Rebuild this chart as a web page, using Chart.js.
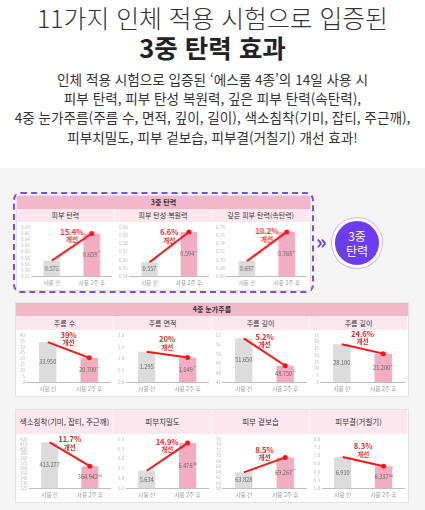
<!DOCTYPE html>
<html lang="ko">
<head>
    <meta charset="UTF-8">
    <title>3중 탄력 효과</title>
    <style>
        body {
            margin: 0;
            width: 425px;
            height: 510px;
            position: relative;
            overflow: hidden;
            background: #fff;
            font-family: "Noto Sans CJK KR", "Noto Sans", sans-serif;
            color: #333;
        }
        .abs { position: absolute; }
        .title1 {
            left: 0; width: 425px; top: 2px;
            text-align: center; font-size: 24.8px; font-weight: 300; color: #333;
            line-height: 30px;
        }
        .title2 {
            left: 0; width: 425px; top: 32px;
            text-align: center; font-size: 25.5px; font-weight: 700; color: #222;
            line-height: 30px;
        }
        .desc {
            left: 0; width: 425px; top: 70px;
            text-align: center; font-size: 13.6px; line-height: 19.2px; color: #333;
        }
        .bg {
            left: 0; top: 168px; width: 425px; height: 342px; background: #f5f5f5;
        }
        .dashed {
            left: 13px; top: 192px; width: 297px; height: 97px;
            border: 2px dashed #7a4cf5; border-radius: 8px;
        }
        .panel { background: #fff; border: 1px solid #e3e3e3; }
        .mainHead {
            background: #f3b7ca; text-align: center; font-size: 7px; font-weight: 700;
            color: #333;
        }
        .subHead {
            background: #fde7ef; text-align: center; font-size: 7px; color: #333;
            border-right: 1px solid #fff; box-sizing: border-box;
        }
        .circle {
            left: 332px; top: 218px; width: 44px; height: 44px; border-radius: 50%;
            background: #6b3cf2; border: 3px solid #fff; box-shadow: 0 0 0 1px #c8b6fb;
            color: #fff; font-size: 12px; line-height: 15px; text-align: center;
            display: flex; align-items: center; justify-content: center;
        }
        .arrow {
            left: 316px; top: 229px; font-size: 20px; font-weight: 700; color: #6b3cf2;
            line-height: 24px;
        }
    </style>
    <script src="https://cdn.jsdelivr.net/npm/chart.js"></script>
</head>
<body>
    <div class="abs title1">11가지 인체 적용 시험으로 입증된</div>
    <div class="abs title2">3중 탄력 효과</div>
    <div class="abs desc">
        인체 적용 시험으로 입증된 ‘에스룸 4종’의 14일 사용 시<br>
        피부 탄력, 피부 탄성 복원력, 깊은 피부 탄력(속탄력),<br>
        4중 눈가주름(주름 수, 면적, 깊이, 길이), 색소침착(기미, 잡티, 주근깨),<br>
        피부치밀도, 피부 겉보습, 피부결(거칠기) 개선 효과!
    </div>
    <div class="abs bg"></div>
    <div class="abs dashed"></div>
    <div class="abs arrow">»</div>
    <div class="abs circle">3중<br>탄력</div>
    <div id="stage"></div>

    <script>
        const chartTitles = ['피부 탄력', '피부 탄성 복원력', '깊은 피부 탄력(속탄력)',
            '주름 수', '주름 면적', '주름 깊이', '주름 길이',
            '색소침착(기미, 잡티, 주근깨)', '피부치밀도', '피부 겉보습', '피부결(거칠기)'];
        const xLabels = ['사용 전', '사용 2주 후'];
        const beforeValues = [0.571, 0.557, 0.697, 33.950, 1.295, 51.650, 28.100, 413.277, 5.634, 63.828, 6.910];
        const afterValues = [0.659, 0.594, 0.768, 20.700, 1.049, 48.750, 21.200, 364.942, 6.476, 69.267, 6.337];
        const beforeLabels = ['0.571', '0.557', '0.697', '33.950', '1.295', '51.650', '28.100', '413.277', '5.634', '63.828', '6.910'];
        const afterLabels = ['0.659', '0.594', '0.768', '20.700', '1.049', '48.750', '21.200', '364.942', '6.476', '69.267', '6.337'];
        const afterMarks = ['**', '**', '**', '**', '**', '**', '**', '##', '##', '**', '##'];
        const improvements = ['15.4%', '6.6%', '10.2%', '39%', '20%', '5.2%', '24.6%', '11.7%', '14.9%', '8.5%', '8.3%'];
        const axisMin = [0.52, 0.54, 0.66, 0, 0, 47, 0, 320, 5.1, 58, 5.0];
        const axisMax = [0.68, 0.60, 0.78, 40, 2.0, 52, 35, 420, 6.6, 76, 8.0];
        const axisStep = [0.02, 0.01, 0.02, 5, 0.5, 1, 5, 10, 0.3, 2, 0.5];
        const groupTitles = ['3중 탄력', '4중 눈가주름', ''];

        // layout of the three panels (px)
        const groups = [
            { left: 17, top: 196, width: 293, head: 13, sub: 13, chart: 68, charts: [0, 1, 2] },
            { left: 16, top: 303, width: 392, head: 13, sub: 14, chart: 66, charts: [3, 4, 5, 6] },
            { left: 16, top: 410, width: 392, head: 0, sub: 24, chart: 68, charts: [7, 8, 9, 10] }
        ];

        const FONT = '"Noto Sans CJK KR", "Noto Sans", sans-serif';

        const barText = {
            id: 'barText',
            afterDatasetsDraw(chart) {
                const i = chart.options.plugins.barText.index;
                const ctx = chart.ctx;
                const bottom = chart.chartArea.bottom;
                const bars = chart.getDatasetMeta(0).data;
                ctx.save();
                ctx.textBaseline = 'middle';
                ctx.fillStyle = '#666';
                // value inside bars
                bars.forEach((b, k) => {
                    const y = (b.y + Math.min(b.base, bottom)) / 2;
                    const main = k === 0 ? beforeLabels[i] : afterLabels[i];
                    const mark = k === 0 ? '' : afterMarks[i];
                    ctx.font = '5.6px ' + FONT;
                    const w1 = ctx.measureText(main).width;
                    ctx.font = '3.6px ' + FONT;
                    const w2 = mark ? ctx.measureText(mark).width : 0;
                    const x = b.x - (w1 + w2) / 2;
                    ctx.textAlign = 'left';
                    ctx.font = '5.6px ' + FONT;
                    ctx.fillText(main, x, y);
                    if (mark) {
                        ctx.font = '3.6px ' + FONT;
                        ctx.fillText(mark, x + w1 + 0.4, y - 1.8);
                    }
                });
                // improvement text over the red line
                const pts = chart.getDatasetMeta(1).data;
                const mx = (pts[0].x + pts[1].x) / 2;
                const my = (pts[0].y + pts[1].y) / 2;
                ctx.textAlign = 'center';
                ctx.fillStyle = '#ff1e1e';
                ctx.font = 'bold 7.5px ' + FONT;
                ctx.fillText(improvements[i], mx, my - 15);
                ctx.font = 'bold 6.5px ' + FONT;
                ctx.fillText('개선', mx, my - 7);
                ctx.restore();
            }
        };

        function tickList(i) {
            const list = [];
            const n = Math.round((axisMax[i] - axisMin[i]) / axisStep[i]);
            for (let k = 0; k <= n; k++) {
                list.push({ value: Math.round((axisMin[i] + k * axisStep[i]) * 1000) / 1000 });
            }
            return list;
        }

        function decimals(step) {
            const s = String(step);
            return s.includes('.') ? s.split('.')[1].length : 0;
        }

        function makeChart(canvas, i) {
            new Chart(canvas.getContext('2d'), {
                type: 'bar',
                data: {
                    labels: xLabels,
                    datasets: [{
                        type: 'bar',
                        data: [beforeValues[i], afterValues[i]],
                        backgroundColor: ['#dcdcdc', '#f2adc3'],
                        categoryPercentage: 1,
                        barPercentage: 0.42,
                        order: 2
                    }, {
                        type: 'line',
                        data: [beforeValues[i], afterValues[i]],
                        borderColor: '#ff1414',
                        backgroundColor: '#ff1414',
                        borderWidth: 2,
                        pointRadius: [0, 2.5],
                        pointBorderWidth: 0,
                        order: 1
                    }]
                },
                options: {
                    responsive: true,
                    maintainAspectRatio: false,
                    animation: false,
                    layout: { padding: { top: 5, right: 4, left: 2, bottom: 1 } },
                    plugins: {
                        legend: { display: false },
                        tooltip: { enabled: false },
                        barText: { index: i }
                    },
                    scales: {
                        x: {
                            grid: { display: false, drawTicks: false },
                            border: { color: '#bdbdbd' },
                            ticks: { color: '#999', padding: 3, font: { size: 5.6, family: FONT } }
                        },
                        y: {
                            min: axisMin[i],
                            max: axisMax[i],
                            afterBuildTicks: axis => { axis.ticks = tickList(i); },
                            grid: { display: false, drawTicks: false },
                            border: { display: false },
                            ticks: {
                                autoSkip: false,
                                color: '#b8b8b8',
                                padding: 2,
                                font: { size: 4.5, family: FONT },
                                callback: v => Number(v).toFixed(decimals(axisStep[i]))
                            }
                        }
                    }
                },
                plugins: [barText]
            });
        }

        const stage = document.getElementById('stage');
        groups.forEach((g, gi) => {
            const height = g.head + g.sub + g.chart;
            const panel = document.createElement('div');
            panel.className = 'abs panel';
            panel.style.cssText = `left:${g.left - 1}px;top:${g.top - 1}px;width:${g.width}px;height:${height}px;`;
            stage.appendChild(panel);
            if (g.head) {
                const h = document.createElement('div');
                h.className = 'abs mainHead';
                h.style.cssText = `left:${g.left}px;top:${g.top}px;width:${g.width}px;height:${g.head}px;line-height:${g.head}px;`;
                h.textContent = groupTitles[gi];
                stage.appendChild(h);
            }
            const colW = g.width / g.charts.length;
            g.charts.forEach((ci, k) => {
                const x = g.left + k * colW;
                const s = document.createElement('div');
                s.className = 'abs subHead';
                s.style.cssText = `left:${x}px;top:${g.top + g.head}px;width:${colW}px;height:${g.sub}px;line-height:${g.sub}px;` +
                    (gi === 2 ? 'font-size:7.5px;' : '');
                s.textContent = chartTitles[ci];
                stage.appendChild(s);
                const box = document.createElement('div');
                box.className = 'abs';
                box.style.cssText = `left:${x}px;top:${g.top + g.head + g.sub}px;width:${colW}px;height:${g.chart}px;`;
                const cv = document.createElement('canvas');
                box.appendChild(cv);
                stage.appendChild(box);
                makeChart(cv, ci);
            });
        });
    </script>
</body>
</html>
